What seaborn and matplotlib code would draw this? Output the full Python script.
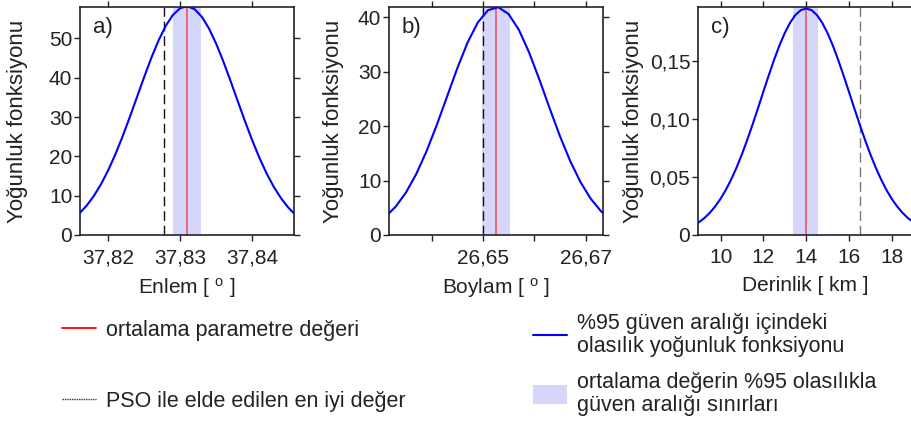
import matplotlib
matplotlib.use("Agg")
import matplotlib.pyplot as plt
import seaborn as sns
from matplotlib.lines import Line2D
from matplotlib.patches import Patch

# ---------------- data ----------------
# a) Enlem (latitude)
lat_x = [37.816, 37.817, 37.818, 37.819, 37.820, 37.821, 37.822, 37.823,
         37.824, 37.825, 37.826, 37.827, 37.828, 37.829, 37.830, 37.831,
         37.832, 37.833, 37.834, 37.835, 37.836, 37.837, 37.838, 37.839,
         37.840, 37.841, 37.842, 37.843, 37.844, 37.845, 37.846]
lat_y = [5.46, 7.43, 9.88, 12.87, 16.41, 20.49, 25.03, 29.93,
         35.05, 40.16, 45.07, 49.48, 53.21, 56.00, 57.70, 58.20,
         57.45, 55.53, 52.54, 48.66, 44.11, 39.15, 34.02, 28.93,
         24.09, 19.63, 15.66, 12.23, 9.35, 7.00, 5.13]
lat_mean = 37.8309
lat_ci = [37.8290, 37.8329]
lat_pso = 37.8278

# b) Boylam (longitude)
lon_x = [26.631, 26.633, 26.635, 26.637, 26.639, 26.641, 26.643, 26.645,
         26.647, 26.649, 26.651, 26.653, 26.655, 26.657, 26.659, 26.661,
         26.663, 26.665, 26.667, 26.669, 26.671, 26.673, 26.675]
lon_y = [3.33, 5.21, 7.80, 11.19, 15.36, 20.19, 25.41, 30.63,
         35.35, 39.05, 41.32, 41.86, 40.61, 37.72, 33.55, 28.57,
         23.30, 18.19, 13.61, 9.74, 6.68, 4.38, 2.75]
lon_mean = 26.6526
lon_ci = [26.6499, 26.6553]
lon_pso = 26.6500

# c) Derinlik (depth)
dep_x = [8.75, 9.00, 9.25, 9.50, 9.75, 10.00, 10.25, 10.50, 10.75, 11.00,
         11.25, 11.50, 11.75, 12.00, 12.25, 12.50, 12.75, 13.00, 13.25,
         13.50, 13.75, 14.00, 14.25, 14.50, 14.75, 15.00, 15.25, 15.50,
         15.75, 16.00, 16.25, 16.50, 16.75, 17.00, 17.25, 17.50, 17.75,
         18.00, 18.25, 18.50, 18.75, 19.00, 19.25]
dep_y = [0.0083, 0.0112, 0.0147, 0.0192, 0.0247, 0.0312, 0.0390, 0.0480,
         0.0582, 0.0696, 0.0821, 0.0954, 0.1092, 0.1234, 0.1373, 0.1507,
         0.1631, 0.1739, 0.1828, 0.1895, 0.1936, 0.1950, 0.1936, 0.1895,
         0.1828, 0.1739, 0.1631, 0.1507, 0.1373, 0.1234, 0.1092, 0.0954,
         0.0821, 0.0696, 0.0582, 0.0480, 0.0390, 0.0312, 0.0247, 0.0192,
         0.0147, 0.0112, 0.0083]
dep_mean = 14.0
dep_ci = [13.37, 14.55]
dep_pso = 16.53

panel_tags = ["a)", "b)", "c)"]
x_titles = [r"Enlem [ $^{\mathrm{o}}$ ]", r"Boylam [ $^{\mathrm{o}}$ ]", "Derinlik [ km ]"]
y_title = "Yoğunluk fonksiyonu"
lat_xticks = [37.82, 37.83, 37.84]
lat_xticklabels = ["37,82", "37,83", "37,84"]
lon_xticks = [26.64, 26.65, 26.66, 26.67]
lon_xticklabels = ["", "26,65", "", "26,67"]
dep_xticks = [10, 12, 14, 16, 18]
dep_xticklabels = ["10", "12", "14", "16", "18"]
lat_yticks = [0, 10, 20, 30, 40, 50]
lat_yticklabels = ["0", "10", "20", "30", "40", "50"]
lon_yticks = [0, 10, 20, 30, 40]
lon_yticklabels = ["0", "10", "20", "30", "40"]
dep_yticks = [0, 0.05, 0.10, 0.15]
dep_yticklabels = ["0", "0,05", "0,10", "0,15"]

legend_labels = ["ortalama parametre değeri",
                 "PSO ile elde edilen en iyi değer",
                 "%95 güven aralığı içindeki\nolasılık yoğunluk fonksiyonu",
                 "ortalama değerin %95 olasılıkla\ngüven aralığı sınırları"]

# ---------------- style ----------------
sns.set_style("ticks")
plt.rcParams['font.family'] = ['Liberation Sans', 'DejaVu Sans']
plt.rcParams['mathtext.fontset'] = 'custom'
plt.rcParams['mathtext.rm'] = 'Liberation Sans'
plt.rcParams['mathtext.it'] = 'Liberation Sans:italic'
plt.rcParams['mathtext.bf'] = 'Liberation Sans:bold'

TXT = '#222222'
BAND = '#d6d6fa'
BLUE = '#0000ff'
W, H = 912, 421

fig = plt.figure(figsize=(W / 100, H / 100), dpi=100)

panels = [
    dict(x=lat_x, y=lat_y, mean=lat_mean, ci=lat_ci, pso=lat_pso, pso_col='#111111',
         xlim=(37.8161, 37.8458), ylim=(0, 58.0), xt=lat_xticks, xtl=lat_xticklabels,
         yt=lat_yticks, ytl=lat_yticklabels, left=80, ylab_x=-0.245),
    dict(x=lon_x, y=lon_y, mean=lon_mean, ci=lon_ci, pso=lon_pso, pso_col='#111111',
         xlim=(26.6317, 26.6734), ylim=(0, 41.9), xt=lon_xticks, xtl=lon_xticklabels,
         yt=lon_yticks, ytl=lon_yticklabels, left=389, ylab_x=-0.212),
    dict(x=dep_x, y=dep_y, mean=dep_mean, ci=dep_ci, pso=dep_pso, pso_col='#777777',
         xlim=(8.944, 18.95), ylim=(0, 0.1963), xt=dep_xticks, xtl=dep_xticklabels,
         yt=dep_yticks, ytl=dep_yticklabels, left=698, ylab_x=-0.254),
]

for i, p in enumerate(panels):
    ax = fig.add_axes([p['left'] / W, (H - 235) / H, 214 / W, 228 / H])
    ax.axvspan(p['ci'][0], p['ci'][1], color=BAND, lw=0, zorder=1)
    ax.axvline(p['mean'], color='red', alpha=0.6, lw=1.2, zorder=2)
    ax.axvline(p['pso'], color=p['pso_col'], lw=1.0, ls=(0, (7, 3.5)), zorder=2)
    sns.lineplot(x=p['x'], y=p['y'], ax=ax, color=BLUE, lw=1.5, zorder=3)
    ax.set_xlim(*p['xlim'])
    ax.set_ylim(*p['ylim'])
    ax.set_xticks(p['xt'])
    ax.set_xticklabels(p['xtl'])
    ax.set_yticks(p['yt'])
    ax.set_yticklabels(p['ytl'])
    ax.tick_params(axis='both', direction='out', length=4, width=1.0, color=TXT,
                   labelcolor=TXT, labelsize=15, top=True, right=True)
    ax.tick_params(axis='x', pad=5.5)
    ax.tick_params(axis='y', pad=1.5)
    for s in ax.spines.values():
        s.set_linewidth(1.2)
        s.set_color(TXT)
    ax.set_xlabel(x_titles[i], fontsize=15, color=TXT, labelpad=6)
    ax.set_ylabel(y_title, fontsize=16, color=TXT)
    ax.yaxis.set_label_coords(p['ylab_x'], 0.5)
    ax.text(0.061, 0.912, panel_tags[i], transform=ax.transAxes, fontsize=16,
            color=TXT, ha='left', va='center')

# ---------------- legends ----------------
h_red = Line2D([], [], color='red', lw=1.3)
h_pso = Line2D([], [], color='#333333', lw=1.0, ls=(0, (1, 0.7)))
h_blue = Line2D([], [], color=BLUE, lw=1.5)
h_band = Patch(facecolor=BAND, edgecolor='none')

leg1 = fig.legend([h_red, h_pso], legend_labels[:2], loc='upper left',
                  bbox_to_anchor=(62 / W, 1 - 320 / H), frameon=False,
                  fontsize=15.5, labelcolor=TXT, handlelength=1.6,
                  handletextpad=0.45, labelspacing=2.3, borderpad=0,
                  borderaxespad=0)
leg2 = fig.legend([h_blue, h_band], legend_labels[2:], loc='upper left',
                  bbox_to_anchor=(533 / W, 1 - 313 / H), frameon=False,
                  fontsize=15.5, labelcolor=TXT, handlelength=1.6,
                  handleheight=0.95, handletextpad=0.45, labelspacing=0.7,
                  borderpad=0, borderaxespad=0)
for t in leg2.get_texts():
    t.set_linespacing(1.12)

fig.savefig("out.png", dpi=100)
